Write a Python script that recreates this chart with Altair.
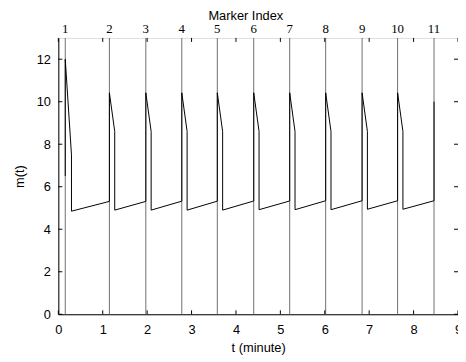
import altair as alt
import pandas as pd

# Marker times (minutes) and indices
marker_t = [0.156, 1.15, 1.97, 2.78, 3.58, 4.40, 5.21, 6.02, 6.84, 7.64, 8.46]
marker_idx = [1, 2, 3, 4, 5, 6, 7, 8, 9, 10, 11]

# Per-cycle readings of m(t)
start_val = [6.5]                     # value at the very start
peak_val = [12.0, 10.42, 10.42, 10.42, 10.42, 10.42, 10.42, 10.42, 10.42, 10.42, 10.0]
knee_t = [0.296, 1.27, 2.09, 2.90, 3.70, 4.52, 5.33, 6.14, 6.96, 7.76]
knee_val = [7.5, 8.6, 8.6, 8.6, 8.6, 8.6, 8.6, 8.6, 8.6, 8.6]
trough_val = [4.85, 4.9, 4.9, 4.9, 4.9, 4.92, 4.92, 4.92, 4.94, 4.94]
end_val = [5.31, 5.31, 5.32, 5.32, 5.33, 5.33, 5.34, 5.34, 5.34, 5.34]

x_ticks = [0, 1, 2, 3, 4, 5, 6, 7, 8, 9]
y_ticks = [0, 2, 4, 6, 8, 10, 12]

# Build curve points in order
pts_t, pts_m = [marker_t[0]], [start_val[0]]
for k in range(len(knee_t)):
    pts_t += [marker_t[k], knee_t[k], knee_t[k], marker_t[k + 1]]
    pts_m += [peak_val[k], knee_val[k], trough_val[k], end_val[k]]
pts_t.append(marker_t[-1])
pts_m.append(peak_val[-1])
curve = pd.DataFrame({"t": pts_t, "m": pts_m, "i": list(range(len(pts_t)))})
markers = pd.DataFrame({"t": marker_t, "idx": [str(v) for v in marker_idx]})
xt = pd.DataFrame({"t": x_ticks})
yt = pd.DataFrame({"m": y_ticks})

W, H = 405, 280
xs = alt.Scale(domain=[0, 9], nice=False, zero=False)
ys = alt.Scale(domain=[0, 13], nice=False, zero=False)
SANS = "Liberation Sans"
SERIF = "Liberation Serif"

xaxis = alt.Axis(values=x_ticks, format="d", ticks=False, tickSize=0, grid=False,
                 labelFont=SANS, labelFontSize=13, labelColor="black", labelPadding=9,
                 domainColor="black", title="t (minute)", titleFont=SANS,
                 titleFontSize=13, titleFontWeight="normal", titleColor="black",
                 titlePadding=6, labelFlush=False)
yaxis = alt.Axis(values=y_ticks, format="d", ticks=False, tickSize=0, grid=False,
                 labelFont=SANS, labelFontSize=13, labelColor="black", labelPadding=8,
                 domainColor="black", title="m(t)", titleFont=SANS,
                 titleFontSize=13, titleFontWeight="normal", titleColor="black",
                 titlePadding=10)

mlines = alt.Chart(markers).mark_rule(color="#6e6e6e", strokeWidth=1).encode(
    x=alt.X("t:Q", scale=xs, axis=xaxis), y=alt.value(0), y2=alt.value(H))

line = alt.Chart(curve).mark_line(color="black", strokeWidth=1).encode(
    x=alt.X("t:Q", scale=xs),
    y=alt.Y("m:Q", scale=ys, axis=yaxis),
    order="i:Q")

bt = alt.Chart(xt).mark_rule(color="black").encode(
    x=alt.X("t:Q", scale=xs), y=alt.value(H), y2=alt.value(H - 4))
tt = alt.Chart(xt).mark_rule(color="black").encode(
    x=alt.X("t:Q", scale=xs), y=alt.value(0), y2=alt.value(4))
lt = alt.Chart(yt).mark_rule(color="black").encode(
    y=alt.Y("m:Q", scale=ys), x=alt.value(0), x2=alt.value(4))
rt = alt.Chart(yt).mark_rule(color="black").encode(
    y=alt.Y("m:Q", scale=ys), x=alt.value(W - 4), x2=alt.value(W))

toplab = alt.Chart(markers).mark_text(font=SERIF, fontSize=13, color="black",
                                      baseline="alphabetic", clip=False).encode(
    x=alt.X("t:Q", scale=xs), y=alt.value(-5), text="idx:N")

toptitle = alt.Chart(pd.DataFrame({"s": ["Marker Index"]})).mark_text(
    font=SANS, fontSize=13, color="black", baseline="alphabetic").encode(
    x=alt.value(190), y=alt.value(-18), text="s:N")

chart = alt.layer(mlines, line, bt, tt, lt, rt, toplab, toptitle).properties(
    width=W, height=H,
    autosize=alt.AutoSizeParams(type="none"),
    padding={"left": 51, "top": 28, "right": 0, "bottom": 44},
).configure_view(stroke="black", strokeWidth=1).configure(background="white")

chart.save("out.html", embed_options={"renderer": "svg", "actions": False})
